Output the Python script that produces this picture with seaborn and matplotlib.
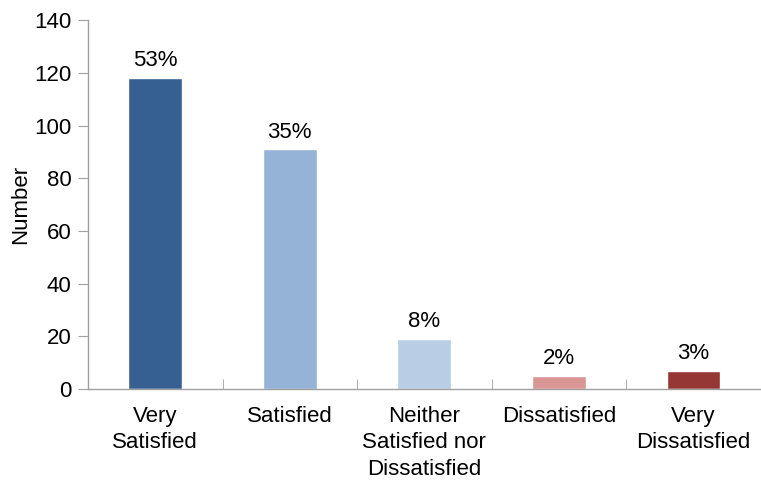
import matplotlib
matplotlib.use("Agg")
import matplotlib.pyplot as plt
import seaborn as sns
import pandas as pd
from matplotlib.ticker import FixedLocator

categories = ["Very\nSatisfied", "Satisfied", "Neither\nSatisfied nor\nDissatisfied",
              "Dissatisfied", "Very\nDissatisfied"]
values = [118, 91, 19, 5, 7]
pct_labels = ["53%", "35%", "8%", "2%", "3%"]
colors = ["#376092", "#95B3D7", "#B9CDE5", "#D99694", "#953735"]
y_ticks = [0, 20, 40, 60, 80, 100, 120, 140]

sns.set_style("white")
plt.rcParams['font.family'] = ['Liberation Sans', 'DejaVu Sans']
plt.rcParams['text.color'] = 'black'
plt.rcParams['axes.labelcolor'] = 'black'
plt.rcParams['xtick.color'] = 'black'
plt.rcParams['ytick.color'] = 'black'

df = pd.DataFrame({"cat": categories, "val": values})

fig = plt.figure(figsize=(7.61, 4.8), dpi=100)
ax = fig.add_axes([0.1156, 0.1896, 0.884, 0.7685])
sns.barplot(data=df, x="cat", y="val", hue="cat", palette=colors, legend=False,
            width=0.4, saturation=1, ax=ax)

ax.set_xlim(-0.5, 4.5)
ax.set_ylim(0, 140)
ax.set_yticks(y_ticks)
ax.set_xlabel("")
ax.set_ylabel("Number", fontsize=16, labelpad=2, color="black")
ax.tick_params(axis='y', labelsize=16, length=7, color="#A0A0A0", labelcolor="black",
               direction='out', pad=5, left=True)
ax.tick_params(axis='x', labelsize=16, length=0, pad=12, labelcolor="black")
ax.xaxis.set_minor_locator(FixedLocator([0.5, 1.5, 2.5, 3.5]))
ax.tick_params(axis='x', which='minor', direction='in', length=7, color="#A0A0A0", bottom=True)
for lbl in ax.get_xticklabels():
    lbl.set_linespacing(1.35)

for s in ["top", "right"]:
    ax.spines[s].set_visible(False)
for s in ["left", "bottom"]:
    ax.spines[s].set_color("#A0A0A0")
    ax.spines[s].set_linewidth(1.0)

for i, (v, t) in enumerate(zip(values, pct_labels)):
    ax.text(i, v + 2.5, t, ha="center", va="bottom", fontsize=16, color="black")

fig.savefig("out.png", dpi=100)
